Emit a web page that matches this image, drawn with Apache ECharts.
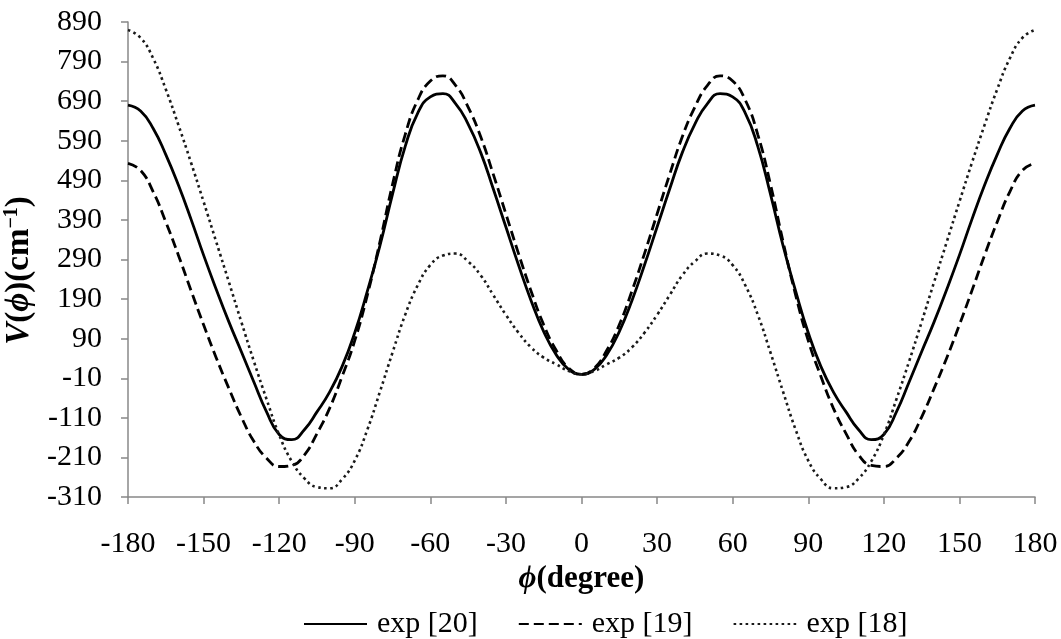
<!DOCTYPE html>
<html>
<head>
<meta charset="utf-8">
<script src="https://cdn.jsdelivr.net/npm/echarts@6/dist/echarts.min.js"></script>
<style>
  html, body { margin: 0; padding: 0; background: #fff; }
  #chart { width: 1061px; height: 639px; }
</style>
</head>
<body>
<div id="chart"></div>
<script>
// torsion angle, -180..180 step 5
var phi = [];
for (var a = -180; a <= 180; a += 5) { phi.push(a); }

// values (cm^-1)
var exp20 = [680,665,621,555,478,392,301,215,133,57,-20,-95,-152,-165,-140,-95,-45,20,105,210,325,455,575,660,701,709,684,632,560,468,372,276,186,108,49,12,0,
             12,49,108,186,276,372,468,560,632,684,709,701,660,575,455,325,210,105,20,-45,-95,-140,-165,-152,-95,-20,57,133,215,301,392,478,555,621,665,680];
var exp19 = [533,515,461,385,301,212,125,42,-35,-108,-170,-212,-233,-230,-204,-150,-86,-5,85,200,335,480,605,693,741,754,730,675,600,505,405,305,210,125,60,15,0,
             15,60,125,210,305,405,505,600,675,730,754,741,693,605,480,335,200,85,-5,-86,-150,-204,-230,-233,-212,-170,-108,-35,42,125,212,301,385,461,515,533];
var exp18 = [870,850,798,720,630,535,436,335,234,132,32,-63,-153,-220,-263,-285,-288,-265,-218,-140,-44,55,150,225,276,300,305,285,250,200,150,105,68,42,25,8,0,
             8,25,42,68,105,150,200,250,285,305,300,276,225,150,55,-44,-140,-218,-265,-288,-285,-263,-220,-153,-63,32,132,234,335,436,535,630,720,798,850,870];

var seriesNames = ['exp [20]', 'exp [19]', 'exp [18]'];

function pairs(vals) {
    return phi.map(function (p, i) { return [p, vals[i]]; });
}

var font = 'Liberation Serif';
var axisColor = '#888888';

var myChart = echarts.init(document.getElementById('chart'));

var option = {
    backgroundColor: '#ffffff',
    animation: false,
    textStyle: { fontFamily: font, color: '#000' },
    grid: { left: 128, right: 26, top: 22, bottom: 142, outerBoundsMode: 'none' },
    legend: {
        top: 604,
        left: 298,
        itemWidth: 63,
        itemHeight: 14,
        itemGap: 40,
        data: seriesNames,
        itemStyle: { opacity: 0 },
        textStyle: { fontFamily: font, fontSize: 30, color: '#000', padding: [0, 0, 0, 5] }
    },
    xAxis: {
        type: 'value',
        min: -180,
        max: 180,
        interval: 30,
        name: '{p|ϕ}{b|(degree)}',
        nameLocation: 'middle',
        nameGap: 66,
        nameTextStyle: {
            rich: {
                p: { fontFamily: font, fontSize: 31, fontWeight: 'bold', fontStyle: 'italic', color: '#000' },
                b: { fontFamily: font, fontSize: 31, fontWeight: 'bold', color: '#000' }
            }
        },
        axisLine: { onZero: false, lineStyle: { color: axisColor, width: 1.5 } },
        axisTick: { show: true, length: 7, lineStyle: { color: axisColor, width: 1.5 } },
        axisLabel: { margin: 32, fontFamily: font, fontSize: 30, color: '#000' },
        splitLine: { show: false }
    },
    yAxis: {
        type: 'value',
        min: -310,
        max: 890,
        interval: 100,
        name: '{i|V}{b|(}{p|ϕ}{b|)(cm}{s|−1}{b|)}',
        nameLocation: 'middle',
        nameGap: 90,
        nameRotate: 90,
        nameTextStyle: {
            padding: [0, 22, 0, 0],
            rich: {
                i: { fontFamily: font, fontSize: 33, fontWeight: 'bold', fontStyle: 'italic', color: '#000' },
                p: { fontFamily: font, fontSize: 33, fontWeight: 'bold', fontStyle: 'italic', color: '#000' },
                b: { fontFamily: font, fontSize: 33, fontWeight: 'bold', color: '#000' },
                s: { fontFamily: font, fontSize: 20, fontWeight: 'bold', color: '#000', padding: [0, 0, 16, 0] }
            }
        },
        axisLine: { show: true, onZero: false, lineStyle: { color: axisColor, width: 1.5 } },
        axisTick: { show: true, length: 7, lineStyle: { color: axisColor, width: 1.5 } },
        axisLabel: { margin: 26, fontFamily: font, fontSize: 30, color: '#000' },
        splitLine: { show: false }
    },
    series: [
        {
            name: seriesNames[0],
            type: 'line',
            smooth: true,
            symbol: 'none',
            data: pairs(exp20),
            lineStyle: { color: '#000', width: 2.8, type: 'solid' },
            itemStyle: { color: '#000' }
        },
        {
            name: seriesNames[1],
            type: 'line',
            smooth: true,
            symbol: 'none',
            data: pairs(exp19),
            lineStyle: { color: '#000', width: 2.8, type: [10, 5] },
            itemStyle: { color: '#000' }
        },
        {
            name: seriesNames[2],
            type: 'line',
            smooth: true,
            symbol: 'none',
            data: pairs(exp18),
            lineStyle: { color: '#1a1a1a', width: 2.6, type: [2.6, 3.4] },
            itemStyle: { color: '#000' }
        }
    ]
};

myChart.setOption(option);
window.onresize = myChart.resize;
</script>
</body>
</html>
